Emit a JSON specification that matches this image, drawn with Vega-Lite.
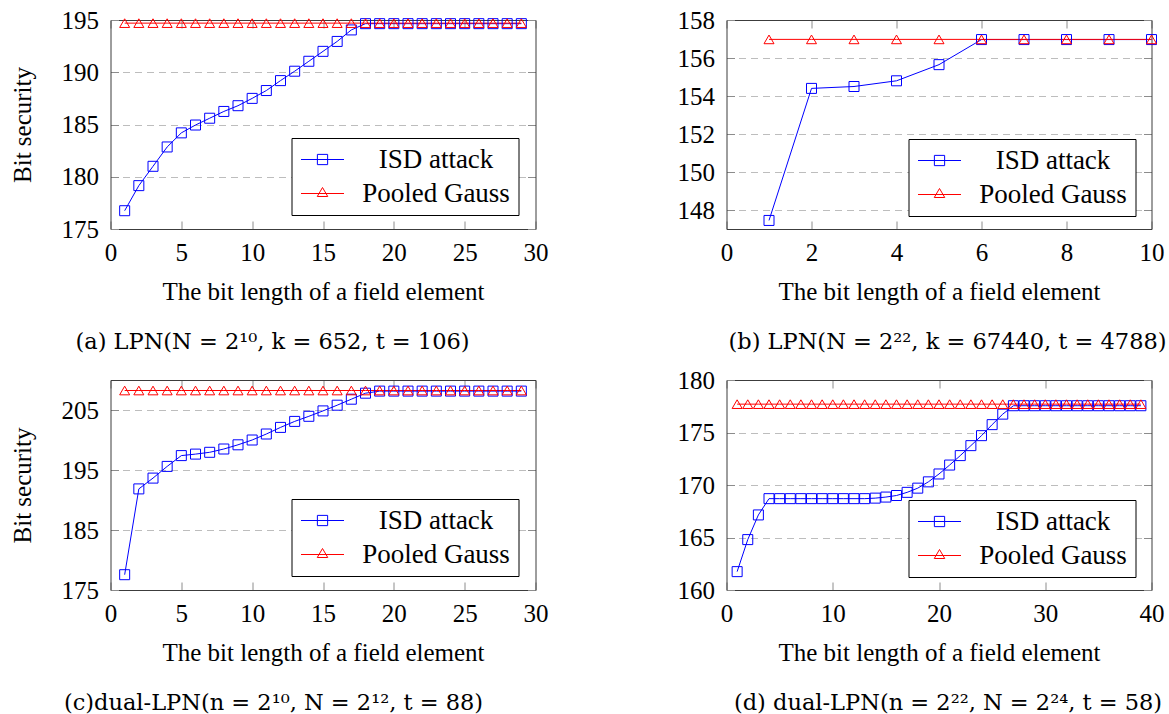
{
  "$schema": "https://vega.github.io/schema/vega-lite/v6.json",
  "padding": {"left": 10.5, "top": 8, "right": 0, "bottom": 0},
  "datasets": {
    "a": [
      {"x":1,"y":176.75,"s":"ISD attack"},{"x":2,"y":179.15,"s":"ISD attack"},{"x":3,"y":181.0,"s":"ISD attack"},{"x":4,"y":182.85,"s":"ISD attack"},{"x":5,"y":184.2,"s":"ISD attack"},{"x":6,"y":184.95,"s":"ISD attack"},{"x":7,"y":185.6,"s":"ISD attack"},{"x":8,"y":186.25,"s":"ISD attack"},{"x":9,"y":186.8,"s":"ISD attack"},{"x":10,"y":187.5,"s":"ISD attack"},{"x":11,"y":188.25,"s":"ISD attack"},{"x":12,"y":189.2,"s":"ISD attack"},{"x":13,"y":190.1,"s":"ISD attack"},{"x":14,"y":191.05,"s":"ISD attack"},{"x":15,"y":192.0,"s":"ISD attack"},{"x":16,"y":192.95,"s":"ISD attack"},{"x":17,"y":194.05,"s":"ISD attack"},{"x":18,"y":194.65,"s":"ISD attack"},{"x":19,"y":194.65,"s":"ISD attack"},{"x":20,"y":194.65,"s":"ISD attack"},{"x":21,"y":194.65,"s":"ISD attack"},{"x":22,"y":194.65,"s":"ISD attack"},{"x":23,"y":194.65,"s":"ISD attack"},{"x":24,"y":194.65,"s":"ISD attack"},{"x":25,"y":194.65,"s":"ISD attack"},{"x":26,"y":194.65,"s":"ISD attack"},{"x":27,"y":194.65,"s":"ISD attack"},{"x":28,"y":194.65,"s":"ISD attack"},{"x":29,"y":194.65,"s":"ISD attack"},
      {"x":1,"y":194.7,"s":"Pooled Gauss"},{"x":2,"y":194.7,"s":"Pooled Gauss"},{"x":3,"y":194.7,"s":"Pooled Gauss"},{"x":4,"y":194.7,"s":"Pooled Gauss"},{"x":5,"y":194.7,"s":"Pooled Gauss"},{"x":6,"y":194.7,"s":"Pooled Gauss"},{"x":7,"y":194.7,"s":"Pooled Gauss"},{"x":8,"y":194.7,"s":"Pooled Gauss"},{"x":9,"y":194.7,"s":"Pooled Gauss"},{"x":10,"y":194.7,"s":"Pooled Gauss"},{"x":11,"y":194.7,"s":"Pooled Gauss"},{"x":12,"y":194.7,"s":"Pooled Gauss"},{"x":13,"y":194.7,"s":"Pooled Gauss"},{"x":14,"y":194.7,"s":"Pooled Gauss"},{"x":15,"y":194.7,"s":"Pooled Gauss"},{"x":16,"y":194.7,"s":"Pooled Gauss"},{"x":17,"y":194.7,"s":"Pooled Gauss"},{"x":18,"y":194.7,"s":"Pooled Gauss"},{"x":19,"y":194.7,"s":"Pooled Gauss"},{"x":20,"y":194.7,"s":"Pooled Gauss"},{"x":21,"y":194.7,"s":"Pooled Gauss"},{"x":22,"y":194.7,"s":"Pooled Gauss"},{"x":23,"y":194.7,"s":"Pooled Gauss"},{"x":24,"y":194.7,"s":"Pooled Gauss"},{"x":25,"y":194.7,"s":"Pooled Gauss"},{"x":26,"y":194.7,"s":"Pooled Gauss"},{"x":27,"y":194.7,"s":"Pooled Gauss"},{"x":28,"y":194.7,"s":"Pooled Gauss"},{"x":29,"y":194.7,"s":"Pooled Gauss"}
    ],
    "b": [
      {"x":1,"y":147.45,"s":"ISD attack"},{"x":2,"y":154.4,"s":"ISD attack"},{"x":3,"y":154.5,"s":"ISD attack"},{"x":4,"y":154.8,"s":"ISD attack"},{"x":5,"y":155.65,"s":"ISD attack"},{"x":6,"y":156.97,"s":"ISD attack"},{"x":7,"y":156.97,"s":"ISD attack"},{"x":8,"y":156.97,"s":"ISD attack"},{"x":9,"y":156.97,"s":"ISD attack"},{"x":10,"y":156.97,"s":"ISD attack"},
      {"x":1,"y":156.98,"s":"Pooled Gauss"},{"x":2,"y":156.98,"s":"Pooled Gauss"},{"x":3,"y":156.98,"s":"Pooled Gauss"},{"x":4,"y":156.98,"s":"Pooled Gauss"},{"x":5,"y":156.98,"s":"Pooled Gauss"},{"x":6,"y":156.98,"s":"Pooled Gauss"},{"x":7,"y":156.98,"s":"Pooled Gauss"},{"x":8,"y":156.98,"s":"Pooled Gauss"},{"x":9,"y":156.98,"s":"Pooled Gauss"},{"x":10,"y":156.98,"s":"Pooled Gauss"}
    ],
    "c": [
      {"x":1,"y":177.55,"s":"ISD attack"},{"x":2,"y":191.85,"s":"ISD attack"},{"x":3,"y":193.65,"s":"ISD attack"},{"x":4,"y":195.6,"s":"ISD attack"},{"x":5,"y":197.4,"s":"ISD attack"},{"x":6,"y":197.65,"s":"ISD attack"},{"x":7,"y":197.95,"s":"ISD attack"},{"x":8,"y":198.5,"s":"ISD attack"},{"x":9,"y":199.2,"s":"ISD attack"},{"x":10,"y":200.0,"s":"ISD attack"},{"x":11,"y":201.0,"s":"ISD attack"},{"x":12,"y":202.1,"s":"ISD attack"},{"x":13,"y":203.1,"s":"ISD attack"},{"x":14,"y":203.95,"s":"ISD attack"},{"x":15,"y":204.85,"s":"ISD attack"},{"x":16,"y":205.8,"s":"ISD attack"},{"x":17,"y":206.8,"s":"ISD attack"},{"x":18,"y":207.8,"s":"ISD attack"},{"x":19,"y":208.15,"s":"ISD attack"},{"x":20,"y":208.15,"s":"ISD attack"},{"x":21,"y":208.15,"s":"ISD attack"},{"x":22,"y":208.15,"s":"ISD attack"},{"x":23,"y":208.15,"s":"ISD attack"},{"x":24,"y":208.15,"s":"ISD attack"},{"x":25,"y":208.15,"s":"ISD attack"},{"x":26,"y":208.15,"s":"ISD attack"},{"x":27,"y":208.15,"s":"ISD attack"},{"x":28,"y":208.15,"s":"ISD attack"},{"x":29,"y":208.15,"s":"ISD attack"},
      {"x":1,"y":208.25,"s":"Pooled Gauss"},{"x":2,"y":208.25,"s":"Pooled Gauss"},{"x":3,"y":208.25,"s":"Pooled Gauss"},{"x":4,"y":208.25,"s":"Pooled Gauss"},{"x":5,"y":208.25,"s":"Pooled Gauss"},{"x":6,"y":208.25,"s":"Pooled Gauss"},{"x":7,"y":208.25,"s":"Pooled Gauss"},{"x":8,"y":208.25,"s":"Pooled Gauss"},{"x":9,"y":208.25,"s":"Pooled Gauss"},{"x":10,"y":208.25,"s":"Pooled Gauss"},{"x":11,"y":208.25,"s":"Pooled Gauss"},{"x":12,"y":208.25,"s":"Pooled Gauss"},{"x":13,"y":208.25,"s":"Pooled Gauss"},{"x":14,"y":208.25,"s":"Pooled Gauss"},{"x":15,"y":208.25,"s":"Pooled Gauss"},{"x":16,"y":208.25,"s":"Pooled Gauss"},{"x":17,"y":208.25,"s":"Pooled Gauss"},{"x":18,"y":208.25,"s":"Pooled Gauss"},{"x":19,"y":208.25,"s":"Pooled Gauss"},{"x":20,"y":208.25,"s":"Pooled Gauss"},{"x":21,"y":208.25,"s":"Pooled Gauss"},{"x":22,"y":208.25,"s":"Pooled Gauss"},{"x":23,"y":208.25,"s":"Pooled Gauss"},{"x":24,"y":208.25,"s":"Pooled Gauss"},{"x":25,"y":208.25,"s":"Pooled Gauss"},{"x":26,"y":208.25,"s":"Pooled Gauss"},{"x":27,"y":208.25,"s":"Pooled Gauss"},{"x":28,"y":208.25,"s":"Pooled Gauss"},{"x":29,"y":208.25,"s":"Pooled Gauss"}
    ],
    "d": [
      {"x":1,"y":161.75,"s":"ISD attack"},{"x":2,"y":164.8,"s":"ISD attack"},{"x":3,"y":167.15,"s":"ISD attack"},{"x":4,"y":168.7,"s":"ISD attack"},{"x":5,"y":168.7,"s":"ISD attack"},{"x":6,"y":168.7,"s":"ISD attack"},{"x":7,"y":168.7,"s":"ISD attack"},{"x":8,"y":168.7,"s":"ISD attack"},{"x":9,"y":168.7,"s":"ISD attack"},{"x":10,"y":168.7,"s":"ISD attack"},{"x":11,"y":168.7,"s":"ISD attack"},{"x":12,"y":168.7,"s":"ISD attack"},{"x":13,"y":168.7,"s":"ISD attack"},{"x":14,"y":168.75,"s":"ISD attack"},{"x":15,"y":168.85,"s":"ISD attack"},{"x":16,"y":169.0,"s":"ISD attack"},{"x":17,"y":169.3,"s":"ISD attack"},{"x":18,"y":169.7,"s":"ISD attack"},{"x":19,"y":170.3,"s":"ISD attack"},{"x":20,"y":171.05,"s":"ISD attack"},{"x":21,"y":171.9,"s":"ISD attack"},{"x":22,"y":172.8,"s":"ISD attack"},{"x":23,"y":173.75,"s":"ISD attack"},{"x":24,"y":174.7,"s":"ISD attack"},{"x":25,"y":175.75,"s":"ISD attack"},{"x":26,"y":176.75,"s":"ISD attack"},{"x":27,"y":177.55,"s":"ISD attack"},{"x":28,"y":177.55,"s":"ISD attack"},{"x":29,"y":177.55,"s":"ISD attack"},{"x":30,"y":177.55,"s":"ISD attack"},{"x":31,"y":177.55,"s":"ISD attack"},{"x":32,"y":177.55,"s":"ISD attack"},{"x":33,"y":177.55,"s":"ISD attack"},{"x":34,"y":177.55,"s":"ISD attack"},{"x":35,"y":177.55,"s":"ISD attack"},{"x":36,"y":177.55,"s":"ISD attack"},{"x":37,"y":177.55,"s":"ISD attack"},{"x":38,"y":177.55,"s":"ISD attack"},{"x":39,"y":177.55,"s":"ISD attack"},
      {"x":1,"y":177.7,"s":"Pooled Gauss"},{"x":2,"y":177.7,"s":"Pooled Gauss"},{"x":3,"y":177.7,"s":"Pooled Gauss"},{"x":4,"y":177.7,"s":"Pooled Gauss"},{"x":5,"y":177.7,"s":"Pooled Gauss"},{"x":6,"y":177.7,"s":"Pooled Gauss"},{"x":7,"y":177.7,"s":"Pooled Gauss"},{"x":8,"y":177.7,"s":"Pooled Gauss"},{"x":9,"y":177.7,"s":"Pooled Gauss"},{"x":10,"y":177.7,"s":"Pooled Gauss"},{"x":11,"y":177.7,"s":"Pooled Gauss"},{"x":12,"y":177.7,"s":"Pooled Gauss"},{"x":13,"y":177.7,"s":"Pooled Gauss"},{"x":14,"y":177.7,"s":"Pooled Gauss"},{"x":15,"y":177.7,"s":"Pooled Gauss"},{"x":16,"y":177.7,"s":"Pooled Gauss"},{"x":17,"y":177.7,"s":"Pooled Gauss"},{"x":18,"y":177.7,"s":"Pooled Gauss"},{"x":19,"y":177.7,"s":"Pooled Gauss"},{"x":20,"y":177.7,"s":"Pooled Gauss"},{"x":21,"y":177.7,"s":"Pooled Gauss"},{"x":22,"y":177.7,"s":"Pooled Gauss"},{"x":23,"y":177.7,"s":"Pooled Gauss"},{"x":24,"y":177.7,"s":"Pooled Gauss"},{"x":25,"y":177.7,"s":"Pooled Gauss"},{"x":26,"y":177.7,"s":"Pooled Gauss"},{"x":27,"y":177.7,"s":"Pooled Gauss"},{"x":28,"y":177.7,"s":"Pooled Gauss"},{"x":29,"y":177.7,"s":"Pooled Gauss"},{"x":30,"y":177.7,"s":"Pooled Gauss"},{"x":31,"y":177.7,"s":"Pooled Gauss"},{"x":32,"y":177.7,"s":"Pooled Gauss"},{"x":33,"y":177.7,"s":"Pooled Gauss"},{"x":34,"y":177.7,"s":"Pooled Gauss"},{"x":35,"y":177.7,"s":"Pooled Gauss"},{"x":36,"y":177.7,"s":"Pooled Gauss"},{"x":37,"y":177.7,"s":"Pooled Gauss"},{"x":38,"y":177.7,"s":"Pooled Gauss"},{"x":39,"y":177.7,"s":"Pooled Gauss"}
    ]
  },
  "columns": 2,
  "bounds": "flush",
  "spacing": {"row": 151, "column": 191},
  "resolve": {"scale": {"color": "independent", "shape": "independent", "x": "independent", "y": "independent"}},
  "concat": [
    {
      "width": 425, "height": 209,
      "data": {"name": "a"},
      "title": {"text": "(a) LPN(N = 2¹⁰, k = 652, t = 106)", "dx": -50.5},
      "encoding": {
        "x": {"field": "x", "type": "quantitative", "scale": {"domain": [0, 30], "nice": false}, "axis": {"values": [0,5,10,15,20,25,30], "title": "The bit length of a field element"}},
        "y": {"field": "y", "type": "quantitative", "scale": {"domain": [175, 195], "nice": false, "zero": false}, "axis": {"values": [175,180,185,190,195], "title": "Bit security", "grid": true}},
        "color": {"field": "s", "type": "nominal", "scale": {"domain": ["ISD attack", "Pooled Gauss"], "range": ["#0000ff", "#ff0000"]},
          "legend": {"orient": "none", "legendX": 181, "legendY": 118}}
      },
      "layer": [
        {"mark": {"type": "line", "strokeWidth": 1}},
        {"mark": {"type": "point", "size": 100, "strokeWidth": 1, "filled": false, "opacity": 1},
          "encoding": {
            "shape": {"condition": {"test": "datum.s === 'ISD attack'", "value": "square"}, "value": "triangle-up"},
            "x": {"field": "x", "type": "quantitative", "axis": {"orient": "top", "labels": false, "title": null, "values": [0,5,10,15,20,25,30]}},
            "y": {"field": "y", "type": "quantitative", "axis": {"orient": "right", "labels": false, "title": null, "grid": false, "values": [175,180,185,190,195]}}
          }},
        {"mark": {"type": "point", "size": 100, "strokeWidth": 1, "filled": false, "opacity": 0},
          "encoding": {
            "shape": {"field": "s", "type": "nominal", "scale": {"domain": ["ISD attack", "Pooled Gauss"], "range": ["M-1.72,0H1.72M-0.41,-0.41H0.41V0.41H-0.41Z", "M-1.72,0H1.72M0,-0.48L0.42,0.24H-0.42Z"]}, "legend": {"orient": "none", "legendX": 181, "legendY": 118}},
            "x": {"field": "x", "type": "quantitative", "axis": null},
            "y": {"field": "y", "type": "quantitative", "axis": null}
          }}
      ],
      "resolve": {"axis": {"x": "independent", "y": "independent"}}
    },
    {
      "width": 425, "height": 209,
      "data": {"name": "b"},
      "title": {"text": "(b) LPN(N = 2²², k = 67440, t = 4788)", "dx": 8.5},
      "encoding": {
        "x": {"field": "x", "type": "quantitative", "scale": {"domain": [0, 10], "nice": false}, "axis": {"values": [0,2,4,6,8,10], "title": "The bit length of a field element"}},
        "y": {"field": "y", "type": "quantitative", "scale": {"domain": [147, 158], "nice": false, "zero": false}, "axis": {"values": [148,150,152,154,156,158], "title": null, "grid": true}},
        "color": {"field": "s", "type": "nominal", "scale": {"domain": ["ISD attack", "Pooled Gauss"], "range": ["#0000ff", "#ff0000"]},
          "legend": {"orient": "none", "legendX": 182, "legendY": 119}}
      },
      "layer": [
        {"mark": {"type": "line", "strokeWidth": 1}},
        {"mark": {"type": "point", "size": 100, "strokeWidth": 1, "filled": false, "opacity": 1},
          "encoding": {
            "shape": {"condition": {"test": "datum.s === 'ISD attack'", "value": "square"}, "value": "triangle-up"},
            "x": {"field": "x", "type": "quantitative", "axis": {"orient": "top", "labels": false, "title": null, "values": [0,2,4,6,8,10]}},
            "y": {"field": "y", "type": "quantitative", "axis": {"orient": "right", "labels": false, "title": null, "grid": false, "values": [148,150,152,154,156,158]}}
          }},
        {"mark": {"type": "point", "size": 100, "strokeWidth": 1, "filled": false, "opacity": 0},
          "encoding": {
            "shape": {"field": "s", "type": "nominal", "scale": {"domain": ["ISD attack", "Pooled Gauss"], "range": ["M-1.72,0H1.72M-0.41,-0.41H0.41V0.41H-0.41Z", "M-1.72,0H1.72M0,-0.48L0.42,0.24H-0.42Z"]}, "legend": {"orient": "none", "legendX": 182, "legendY": 119}},
            "x": {"field": "x", "type": "quantitative", "axis": null},
            "y": {"field": "y", "type": "quantitative", "axis": null}
          }}
      ],
      "resolve": {"axis": {"x": "independent", "y": "independent"}}
    },
    {
      "width": 425, "height": 210,
      "data": {"name": "c"},
      "title": {"text": "(c)dual-LPN(n = 2¹⁰, N = 2¹², t = 88)", "dx": -49.5},
      "encoding": {
        "x": {"field": "x", "type": "quantitative", "scale": {"domain": [0, 30], "nice": false}, "axis": {"values": [0,5,10,15,20,25,30], "title": "The bit length of a field element"}},
        "y": {"field": "y", "type": "quantitative", "scale": {"domain": [175, 210], "nice": false, "zero": false}, "axis": {"values": [175,185,195,205], "title": "Bit security", "grid": true}},
        "color": {"field": "s", "type": "nominal", "scale": {"domain": ["ISD attack", "Pooled Gauss"], "range": ["#0000ff", "#ff0000"]},
          "legend": {"orient": "none", "legendX": 181, "legendY": 119}}
      },
      "layer": [
        {"mark": {"type": "line", "strokeWidth": 1}},
        {"mark": {"type": "point", "size": 100, "strokeWidth": 1, "filled": false, "opacity": 1},
          "encoding": {
            "shape": {"condition": {"test": "datum.s === 'ISD attack'", "value": "square"}, "value": "triangle-up"},
            "x": {"field": "x", "type": "quantitative", "axis": {"orient": "top", "labels": false, "title": null, "values": [0,5,10,15,20,25,30]}},
            "y": {"field": "y", "type": "quantitative", "axis": {"orient": "right", "labels": false, "title": null, "grid": false, "values": [175,185,195,205]}}
          }},
        {"mark": {"type": "point", "size": 100, "strokeWidth": 1, "filled": false, "opacity": 0},
          "encoding": {
            "shape": {"field": "s", "type": "nominal", "scale": {"domain": ["ISD attack", "Pooled Gauss"], "range": ["M-1.72,0H1.72M-0.41,-0.41H0.41V0.41H-0.41Z", "M-1.72,0H1.72M0,-0.48L0.42,0.24H-0.42Z"]}, "legend": {"orient": "none", "legendX": 181, "legendY": 119}},
            "x": {"field": "x", "type": "quantitative", "axis": null},
            "y": {"field": "y", "type": "quantitative", "axis": null}
          }}
      ],
      "resolve": {"axis": {"x": "independent", "y": "independent"}}
    },
    {
      "width": 425, "height": 210,
      "data": {"name": "d"},
      "title": {"text": "(d) dual-LPN(n = 2²², N = 2²⁴, t = 58)", "dx": 9},
      "encoding": {
        "x": {"field": "x", "type": "quantitative", "scale": {"domain": [0, 40], "nice": false}, "axis": {"values": [0,10,20,30,40], "title": "The bit length of a field element"}},
        "y": {"field": "y", "type": "quantitative", "scale": {"domain": [160, 180], "nice": false, "zero": false}, "axis": {"values": [160,165,170,175,180], "title": null, "grid": true}},
        "color": {"field": "s", "type": "nominal", "scale": {"domain": ["ISD attack", "Pooled Gauss"], "range": ["#0000ff", "#ff0000"]},
          "legend": {"orient": "none", "legendX": 182, "legendY": 120}}
      },
      "layer": [
        {"mark": {"type": "line", "strokeWidth": 1}},
        {"mark": {"type": "point", "size": 100, "strokeWidth": 1, "filled": false, "opacity": 1},
          "encoding": {
            "shape": {"condition": {"test": "datum.s === 'ISD attack'", "value": "square"}, "value": "triangle-up"},
            "x": {"field": "x", "type": "quantitative", "axis": {"orient": "top", "labels": false, "title": null, "values": [0,10,20,30,40]}},
            "y": {"field": "y", "type": "quantitative", "axis": {"orient": "right", "labels": false, "title": null, "grid": false, "values": [160,165,170,175,180]}}
          }},
        {"mark": {"type": "point", "size": 100, "strokeWidth": 1, "filled": false, "opacity": 0},
          "encoding": {
            "shape": {"field": "s", "type": "nominal", "scale": {"domain": ["ISD attack", "Pooled Gauss"], "range": ["M-1.72,0H1.72M-0.41,-0.41H0.41V0.41H-0.41Z", "M-1.72,0H1.72M0,-0.48L0.42,0.24H-0.42Z"]}, "legend": {"orient": "none", "legendX": 182, "legendY": 120}},
            "x": {"field": "x", "type": "quantitative", "axis": null},
            "y": {"field": "y", "type": "quantitative", "axis": null}
          }}
      ],
      "resolve": {"axis": {"x": "independent", "y": "independent"}}
    }
  ],
  "config": {
    "font": "Liberation Serif",
    "view": {"stroke": null},
    "axis": {
      "labelFont": "Liberation Serif", "labelFontSize": 25, "labelColor": "black",
      "titleFont": "Liberation Serif", "titleFontSize": 25, "titleFontWeight": "normal", "titleColor": "black",
      "domain": true, "domainColor": "#3c3c3c", "domainWidth": 1,
      "ticks": true, "tickColor": "#8c8c8c", "tickSize": -8, "tickWidth": 1,
      "grid": false, "gridColor": "#bdbdbd", "gridDash": [7, 5], "gridWidth": 1,
      "labelPadding": 20, "titlePadding": 14, "zindex": 1, "labelFlush": false, "labelOverlap": false
    },
    "axisY": {"titlePadding": 25.5},
    "axisX": {"labelPadding": 19},
    "legend": {
      "title": null, "labelFont": "Liberation Serif", "labelFontSize": 27, "labelColor": "black",
      "labelAlign": "center", "labelOffset": 100, "labelLimit": 400,
      "symbolSize": 625, "symbolOffset": 9.5, "symbolStrokeWidth": 1, "symbolFillColor": "transparent", "symbolOpacity": 1,
      "rowPadding": 6, "padding": 8, "strokeColor": "black", "fillColor": "white"
    },
    "title": {"font": "DejaVu Serif", "fontSize": 22.5, "fontWeight": "normal", "color": "black", "orient": "bottom", "anchor": "middle", "offset": 27, "frame": "group"}
  }
}
